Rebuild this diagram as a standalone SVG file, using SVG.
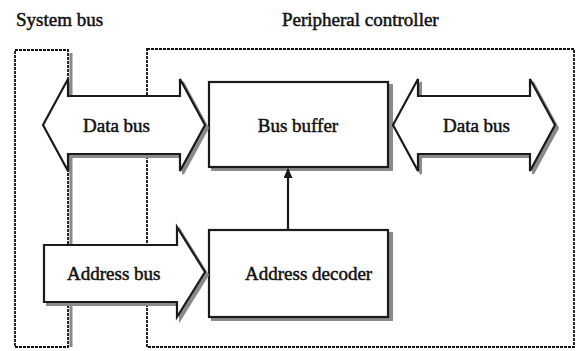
<svg xmlns="http://www.w3.org/2000/svg" width="576" height="351" viewBox="0 0 576 351">
<style>
.t{font-family:'Liberation Serif','Times New Roman',Times,serif;font-size:19px;fill:#111;stroke:#111;stroke-width:0.5;}
.dot{fill:none;stroke:#111;stroke-width:1.8;stroke-dasharray:3,1;}
.shape{fill:#fff;stroke:#1a1a1a;stroke-width:2.2;stroke-linejoin:miter;}
.shadow{fill:#8a8a8a;stroke:#8a8a8a;stroke-width:2;}
.conn{stroke:#1a1a1a;stroke-width:2.2;fill:none;}
</style>
<defs>
<marker id="ah" markerWidth="10" markerHeight="9" refX="9" refY="4.5" orient="auto" markerUnits="userSpaceOnUse">
<path d="M0,0 L10,4.5 L0,9 Z" fill="#1a1a1a"/>
</marker>
<path id="dbl" d="M0,0 L25,-46 L25,-29 L137,-29 L137,-46 L162,0 L137,46 L137,29 L25,29 L25,46 Z"/>
</defs>

<g id="labels">
<text class="t" x="16" y="26">System bus</text>
<text class="t" x="282" y="26">Peripheral controller</text>
</g>

<g id="system-bus">
<line x1="71" y1="53" x2="71" y2="347" stroke="#8a8a8a" stroke-width="3"/>
<rect class="dot" x="15" y="50" width="53" height="297"/>
</g>

<g id="peripheral-controller">
<rect class="dot" x="147" y="49" width="427" height="298"/>
</g>

<g id="bus-buffer">
<rect class="shadow" x="212" y="85" width="180" height="85"/>
<rect class="shape" x="209" y="82" width="179" height="85"/>
<text class="t" x="298" y="132" text-anchor="middle">Bus buffer</text>
</g>

<g id="address-decoder">
<rect class="shadow" x="212" y="233" width="180" height="87"/>
<rect class="shape" x="209" y="230" width="179" height="87"/>
<text class="t" x="245" y="280">Address decoder</text>
</g>

<g id="data-bus-left">
<use href="#dbl" x="46" y="128" class="shadow"/>
<use href="#dbl" x="43" y="125" class="shape"/>
<text class="t" x="83" y="132">Data bus</text>
</g>

<g id="data-bus-right">
<use href="#dbl" x="396" y="128" class="shadow"/>
<use href="#dbl" x="393" y="125" class="shape"/>
<text class="t" x="443" y="132">Data bus</text>
</g>

<g id="address-bus">
<path class="shadow" d="M47,248 L180,248 L180,230 L208,275 L180,320 L180,305 L47,305 Z"/>
<path class="shape" d="M44,245 L177,245 L177,227 L205,272 L177,317 L177,302 L44,302 Z"/>
<text class="t" x="67" y="280">Address bus</text>
</g>

<g id="connectors">
<line class="conn" x1="288" y1="230" x2="288" y2="169" marker-end="url(#ah)"/>
</g>
</svg>
